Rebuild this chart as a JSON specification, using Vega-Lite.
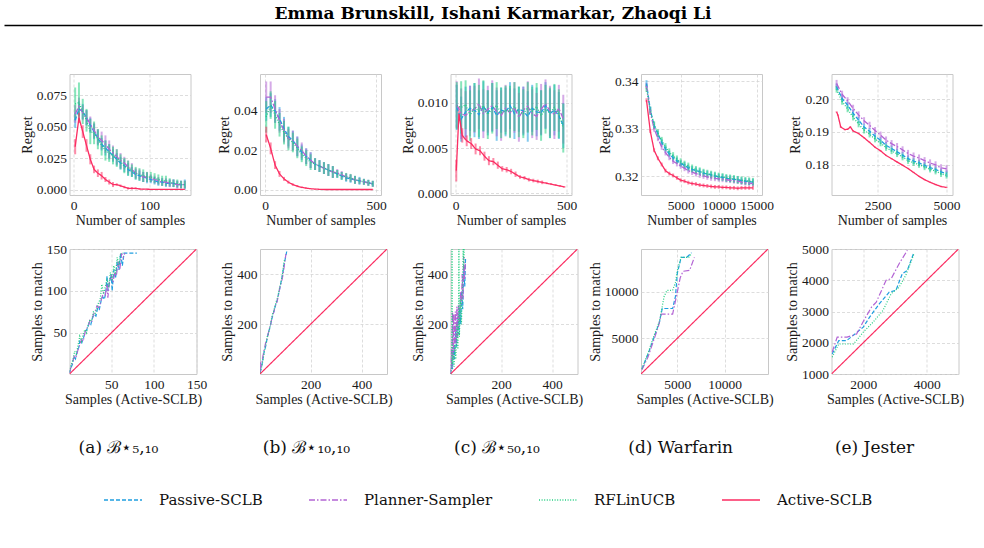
{
"$schema": "https://vega.github.io/schema/vega-lite/v6.json",
"padding": {"left": 3, "top": 5, "right": 3, "bottom": 5},
"background": "white",
"spacing": 47,
"config": {
 "font": "Times New Roman, Liberation Serif, Tinos, serif",
 "view": {"stroke": "#c8c8c8", "strokeWidth": 1},
 "axis": {"labelFont": "Times New Roman, Liberation Serif, Tinos, serif", "labelFontSize": 13.5, "labelColor": "#1a1a1a", "titleFont": "Times New Roman, Liberation Serif, Tinos, serif", "titleFontSize": 14, "titleFontWeight": "normal", "titleColor": "#1a1a1a", "ticks": false, "domain": false, "grid": true, "gridColor": "#d4d4d4", "gridDash": [3, 2], "gridWidth": 0.8, "labelPadding": 3, "titlePadding": 2, "labelFlush": false, "labelOverlap": false, "labelBound": false},
 "legend": {"labelFont": "DejaVu Serif", "labelFontSize": 15, "labelColor": "#111", "symbolOpacity": 1, "symbolStrokeWidth": 1.6, "symbolSize": 1444, "labelOffset": 16, "columnPadding": 42, "padding": 0},
 "title": {"font": "DejaVu Serif", "fontSize": 17, "fontWeight": "normal", "color": "#111"}
},
"datasets": {
"ta": [
{"s":"P","x":2,"y":0.055,"e":0.006},{"s":"P","x":7,"y":0.064,"e":0.006},{"s":"P","x":12,"y":0.062,"e":0.006},{"s":"P","x":17,"y":0.057,"e":0.006},{"s":"P","x":22,"y":0.051,"e":0.006},{"s":"P","x":27,"y":0.046,"e":0.006},{"s":"P","x":32,"y":0.041,"e":0.006},{"s":"P","x":37,"y":0.036,"e":0.005},{"s":"P","x":42,"y":0.033,"e":0.006},{"s":"P","x":47,"y":0.030,"e":0.006},{"s":"P","x":52,"y":0.027,"e":0.005},{"s":"P","x":57,"y":0.024,"e":0.005},{"s":"P","x":62,"y":0.021,"e":0.005},{"s":"P","x":67,"y":0.019,"e":0.005},{"s":"P","x":72,"y":0.016,"e":0.005},{"s":"P","x":77,"y":0.014,"e":0.004},{"s":"P","x":82,"y":0.012,"e":0.004},{"s":"P","x":87,"y":0.011,"e":0.004},{"s":"P","x":92,"y":0.010,"e":0.004},{"s":"P","x":97,"y":0.009,"e":0.004},{"s":"P","x":102,"y":0.008,"e":0.003},{"s":"P","x":107,"y":0.007,"e":0.003},{"s":"P","x":112,"y":0.006,"e":0.003},{"s":"P","x":117,"y":0.006,"e":0.003},{"s":"P","x":122,"y":0.005,"e":0.003},{"s":"P","x":127,"y":0.005,"e":0.003},{"s":"P","x":132,"y":0.005,"e":0.003},{"s":"P","x":137,"y":0.004,"e":0.003},{"s":"P","x":142,"y":0.004,"e":0.003},{"s":"P","x":147,"y":0.004,"e":0.004},
{"s":"L","x":2,"y":0.060,"e":0.007},{"s":"L","x":7,"y":0.066,"e":0.007},{"s":"L","x":12,"y":0.061,"e":0.006},{"s":"L","x":17,"y":0.057,"e":0.006},{"s":"L","x":22,"y":0.052,"e":0.006},{"s":"L","x":27,"y":0.047,"e":0.006},{"s":"L","x":32,"y":0.042,"e":0.006},{"s":"L","x":37,"y":0.039,"e":0.007},{"s":"L","x":42,"y":0.036,"e":0.007},{"s":"L","x":47,"y":0.032,"e":0.007},{"s":"L","x":52,"y":0.029,"e":0.006},{"s":"L","x":57,"y":0.026,"e":0.006},{"s":"L","x":62,"y":0.023,"e":0.006},{"s":"L","x":67,"y":0.021,"e":0.005},{"s":"L","x":72,"y":0.018,"e":0.005},{"s":"L","x":77,"y":0.016,"e":0.005},{"s":"L","x":82,"y":0.013,"e":0.004},{"s":"L","x":87,"y":0.012,"e":0.004},{"s":"L","x":92,"y":0.010,"e":0.004},{"s":"L","x":97,"y":0.010,"e":0.004},{"s":"L","x":102,"y":0.009,"e":0.003},{"s":"L","x":107,"y":0.008,"e":0.003},{"s":"L","x":112,"y":0.007,"e":0.003},{"s":"L","x":117,"y":0.006,"e":0.003},{"s":"L","x":122,"y":0.006,"e":0.003},{"s":"L","x":127,"y":0.005,"e":0.003},{"s":"L","x":132,"y":0.005,"e":0.003},{"s":"L","x":137,"y":0.004,"e":0.003},{"s":"L","x":142,"y":0.004,"e":0.003},{"s":"L","x":147,"y":0.004,"e":0.003},
{"s":"R","x":2,"y":0.068,"e":0.013},{"s":"R","x":7,"y":0.069,"e":0.016},{"s":"R","x":12,"y":0.062,"e":0.010},{"s":"R","x":17,"y":0.055,"e":0.009},{"s":"R","x":22,"y":0.046,"e":0.010},{"s":"R","x":27,"y":0.045,"e":0.009},{"s":"R","x":32,"y":0.040,"e":0.008},{"s":"R","x":37,"y":0.035,"e":0.008},{"s":"R","x":42,"y":0.031,"e":0.008},{"s":"R","x":47,"y":0.029,"e":0.007},{"s":"R","x":52,"y":0.027,"e":0.007},{"s":"R","x":57,"y":0.025,"e":0.007},{"s":"R","x":62,"y":0.022,"e":0.006},{"s":"R","x":67,"y":0.019,"e":0.006},{"s":"R","x":72,"y":0.017,"e":0.006},{"s":"R","x":77,"y":0.015,"e":0.005},{"s":"R","x":82,"y":0.013,"e":0.005},{"s":"R","x":87,"y":0.012,"e":0.005},{"s":"R","x":92,"y":0.011,"e":0.005},{"s":"R","x":97,"y":0.010,"e":0.004},{"s":"R","x":102,"y":0.010,"e":0.004},{"s":"R","x":107,"y":0.009,"e":0.004},{"s":"R","x":112,"y":0.008,"e":0.004},{"s":"R","x":117,"y":0.007,"e":0.004},{"s":"R","x":122,"y":0.007,"e":0.004},{"s":"R","x":127,"y":0.006,"e":0.003},{"s":"R","x":132,"y":0.005,"e":0.003},{"s":"R","x":137,"y":0.005,"e":0.003},{"s":"R","x":142,"y":0.004,"e":0.003},{"s":"R","x":147,"y":0.004,"e":0.003},
{"s":"A","x":2,"y":0.034,"e":0.006},{"s":"A","x":7,"y":0.057,"e":0.004},{"s":"A","x":12,"y":0.046,"e":0.005},{"s":"A","x":17,"y":0.035,"e":0.005},{"s":"A","x":22,"y":0.024,"e":0.004},{"s":"A","x":27,"y":0.016,"e":0.003},{"s":"A","x":32,"y":0.013,"e":0.003},{"s":"A","x":37,"y":0.011,"e":0.003},{"s":"A","x":42,"y":0.008,"e":0.002},{"s":"A","x":47,"y":0.006,"e":0.002},{"s":"A","x":52,"y":0.004,"e":0.002},{"s":"A","x":57,"y":0.004,"e":0.001},{"s":"A","x":62,"y":0.003,"e":0.001},{"s":"A","x":67,"y":0.002,"e":0.001},{"s":"A","x":72,"y":0.001,"e":0.001},{"s":"A","x":77,"y":0.001,"e":0.001},{"s":"A","x":82,"y":0.001,"e":0.0008},{"s":"A","x":87,"y":0.0005,"e":0.0005},{"s":"A","x":92,"y":0.0003,"e":0.0003},{"s":"A","x":97,"y":0.0003,"e":0.0003},{"s":"A","x":102,"y":0.0002,"e":0.0002},{"s":"A","x":107,"y":0.0002,"e":0.0002},{"s":"A","x":112,"y":0.0001,"e":0.0001},{"s":"A","x":117,"y":0.0001,"e":0.0001},{"s":"A","x":122,"y":0.0001,"e":0.0001},{"s":"A","x":127,"y":0.0001,"e":0.0001},{"s":"A","x":132,"y":0.0001,"e":0.0001},{"s":"A","x":137,"y":0.0001,"e":0.0001},{"s":"A","x":142,"y":0.0001,"e":0.0001},{"s":"A","x":147,"y":0.0001,"e":0.0001}
],
"tb": [
{"s":"P","x":5,"y":0.041,"e":0.006},{"s":"P","x":25,"y":0.043,"e":0.006},{"s":"P","x":45,"y":0.040,"e":0.006},{"s":"P","x":65,"y":0.036,"e":0.006},{"s":"P","x":85,"y":0.031,"e":0.006},{"s":"P","x":105,"y":0.027,"e":0.005},{"s":"P","x":125,"y":0.025,"e":0.005},{"s":"P","x":145,"y":0.022,"e":0.005},{"s":"P","x":165,"y":0.019,"e":0.004},{"s":"P","x":185,"y":0.017,"e":0.004},{"s":"P","x":205,"y":0.015,"e":0.004},{"s":"P","x":225,"y":0.013,"e":0.003},{"s":"P","x":245,"y":0.012,"e":0.003},{"s":"P","x":265,"y":0.011,"e":0.003},{"s":"P","x":285,"y":0.010,"e":0.003},{"s":"P","x":305,"y":0.009,"e":0.003},{"s":"P","x":325,"y":0.008,"e":0.002},{"s":"P","x":345,"y":0.007,"e":0.002},{"s":"P","x":365,"y":0.006,"e":0.002},{"s":"P","x":385,"y":0.0055,"e":0.002},{"s":"P","x":405,"y":0.005,"e":0.002},{"s":"P","x":425,"y":0.0045,"e":0.002},{"s":"P","x":445,"y":0.004,"e":0.0015},{"s":"P","x":465,"y":0.0035,"e":0.0015},{"s":"P","x":485,"y":0.003,"e":0.0015},
{"s":"L","x":5,"y":0.047,"e":0.008},{"s":"L","x":25,"y":0.047,"e":0.008},{"s":"L","x":45,"y":0.041,"e":0.007},{"s":"L","x":65,"y":0.035,"e":0.006},{"s":"L","x":85,"y":0.030,"e":0.006},{"s":"L","x":105,"y":0.026,"e":0.005},{"s":"L","x":125,"y":0.025,"e":0.005},{"s":"L","x":145,"y":0.022,"e":0.005},{"s":"L","x":165,"y":0.020,"e":0.004},{"s":"L","x":185,"y":0.017,"e":0.004},{"s":"L","x":205,"y":0.015,"e":0.004},{"s":"L","x":225,"y":0.013,"e":0.003},{"s":"L","x":245,"y":0.012,"e":0.003},{"s":"L","x":265,"y":0.011,"e":0.003},{"s":"L","x":285,"y":0.010,"e":0.003},{"s":"L","x":305,"y":0.009,"e":0.003},{"s":"L","x":325,"y":0.0085,"e":0.002},{"s":"L","x":345,"y":0.0075,"e":0.002},{"s":"L","x":365,"y":0.0065,"e":0.002},{"s":"L","x":385,"y":0.006,"e":0.002},{"s":"L","x":405,"y":0.005,"e":0.002},{"s":"L","x":425,"y":0.0045,"e":0.0015},{"s":"L","x":445,"y":0.004,"e":0.0015},{"s":"L","x":465,"y":0.0035,"e":0.0015},{"s":"L","x":485,"y":0.003,"e":0.0015},
{"s":"R","x":5,"y":0.037,"e":0.008},{"s":"R","x":25,"y":0.043,"e":0.007},{"s":"R","x":45,"y":0.038,"e":0.007},{"s":"R","x":65,"y":0.033,"e":0.006},{"s":"R","x":85,"y":0.029,"e":0.006},{"s":"R","x":105,"y":0.026,"e":0.006},{"s":"R","x":125,"y":0.024,"e":0.005},{"s":"R","x":145,"y":0.021,"e":0.005},{"s":"R","x":165,"y":0.018,"e":0.004},{"s":"R","x":185,"y":0.016,"e":0.004},{"s":"R","x":205,"y":0.014,"e":0.004},{"s":"R","x":225,"y":0.013,"e":0.003},{"s":"R","x":245,"y":0.012,"e":0.003},{"s":"R","x":265,"y":0.011,"e":0.003},{"s":"R","x":285,"y":0.010,"e":0.003},{"s":"R","x":305,"y":0.009,"e":0.003},{"s":"R","x":325,"y":0.008,"e":0.002},{"s":"R","x":345,"y":0.007,"e":0.002},{"s":"R","x":365,"y":0.0065,"e":0.002},{"s":"R","x":385,"y":0.006,"e":0.002},{"s":"R","x":405,"y":0.005,"e":0.002},{"s":"R","x":425,"y":0.0045,"e":0.0015},{"s":"R","x":445,"y":0.004,"e":0.0015},{"s":"R","x":465,"y":0.0035,"e":0.0015},{"s":"R","x":485,"y":0.003,"e":0.0015},
{"s":"A","x":5,"y":0.028,"e":0.004},{"s":"A","x":25,"y":0.021,"e":0.003},{"s":"A","x":45,"y":0.0125,"e":0.002},{"s":"A","x":65,"y":0.008,"e":0.0015},{"s":"A","x":85,"y":0.0055,"e":0.001},{"s":"A","x":105,"y":0.0038,"e":0.0008},{"s":"A","x":125,"y":0.0026,"e":0.0006},{"s":"A","x":145,"y":0.0018,"e":0.0005},{"s":"A","x":165,"y":0.0012,"e":0.0004},{"s":"A","x":185,"y":0.0008,"e":0.0003},{"s":"A","x":205,"y":0.0005,"e":0.0002},{"s":"A","x":225,"y":0.0003,"e":0.0002},{"s":"A","x":245,"y":0.0002,"e":0.0001},{"s":"A","x":265,"y":0.0001,"e":0.0001},{"s":"A","x":285,"y":0.0001,"e":0.0001},{"s":"A","x":305,"y":0.0001,"e":0.0001},{"s":"A","x":325,"y":0.0001,"e":0.0001},{"s":"A","x":345,"y":0.0001,"e":0.0001},{"s":"A","x":365,"y":0.0001,"e":0.0001},{"s":"A","x":385,"y":0.0001,"e":0.0001},{"s":"A","x":405,"y":0.0001,"e":0.0001},{"s":"A","x":425,"y":0.0001,"e":0.0001},{"s":"A","x":445,"y":0.0001,"e":0.0001},{"s":"A","x":465,"y":0.0001,"e":0.0001},{"s":"A","x":485,"y":0.0001,"e":0.0001}
],
"tc": [
{"s":"P","x":5,"y":0.0095,"e":0.0025},{"s":"P","x":25,"y":0.0082,"e":0.0025},{"s":"P","x":45,"y":0.0090,"e":0.0028},{"s":"P","x":65,"y":0.0094,"e":0.0025},{"s":"P","x":85,"y":0.0092,"e":0.003},{"s":"P","x":105,"y":0.0087,"e":0.0027},{"s":"P","x":125,"y":0.0096,"e":0.0028},{"s":"P","x":145,"y":0.0089,"e":0.0025},{"s":"P","x":165,"y":0.0095,"e":0.0027},{"s":"P","x":185,"y":0.0086,"e":0.0028},{"s":"P","x":205,"y":0.0092,"e":0.0025},{"s":"P","x":225,"y":0.0090,"e":0.0027},{"s":"P","x":245,"y":0.0097,"e":0.0026},{"s":"P","x":265,"y":0.0088,"e":0.0028},{"s":"P","x":285,"y":0.0093,"e":0.0025},{"s":"P","x":305,"y":0.0091,"e":0.0027},{"s":"P","x":325,"y":0.0085,"e":0.0028},{"s":"P","x":345,"y":0.0094,"e":0.0026},{"s":"P","x":365,"y":0.0090,"e":0.0027},{"s":"P","x":385,"y":0.0089,"e":0.0025},{"s":"P","x":405,"y":0.0097,"e":0.0026},{"s":"P","x":425,"y":0.0088,"e":0.0027},{"s":"P","x":445,"y":0.0092,"e":0.0028},{"s":"P","x":465,"y":0.0086,"e":0.0026},{"s":"P","x":485,"y":0.0075,"e":0.0025},
{"s":"L","x":5,"y":0.0098,"e":0.0026},{"s":"L","x":25,"y":0.0088,"e":0.0028},{"s":"L","x":45,"y":0.0086,"e":0.0027},{"s":"L","x":65,"y":0.0091,"e":0.0028},{"s":"L","x":85,"y":0.0093,"e":0.0026},{"s":"L","x":105,"y":0.0099,"e":0.0028},{"s":"L","x":125,"y":0.0088,"e":0.0027},{"s":"L","x":145,"y":0.0093,"e":0.0026},{"s":"L","x":165,"y":0.0097,"e":0.0028},{"s":"L","x":185,"y":0.0090,"e":0.0027},{"s":"L","x":205,"y":0.0086,"e":0.0028},{"s":"L","x":225,"y":0.0094,"e":0.0026},{"s":"L","x":245,"y":0.0089,"e":0.0027},{"s":"L","x":265,"y":0.0095,"e":0.0028},{"s":"L","x":285,"y":0.0084,"e":0.0027},{"s":"L","x":305,"y":0.0092,"e":0.0026},{"s":"L","x":325,"y":0.0096,"e":0.0028},{"s":"L","x":345,"y":0.0088,"e":0.0027},{"s":"L","x":365,"y":0.0085,"e":0.0026},{"s":"L","x":385,"y":0.0093,"e":0.0028},{"s":"L","x":405,"y":0.0099,"e":0.0027},{"s":"L","x":425,"y":0.0091,"e":0.0028},{"s":"L","x":445,"y":0.0087,"e":0.0027},{"s":"L","x":465,"y":0.0094,"e":0.0026},{"s":"L","x":485,"y":0.0082,"e":0.0027},
{"s":"R","x":5,"y":0.0097,"e":0.0026},{"s":"R","x":25,"y":0.0095,"e":0.0029},{"s":"R","x":45,"y":0.0098,"e":0.0027},{"s":"R","x":65,"y":0.0086,"e":0.0028},{"s":"R","x":85,"y":0.0095,"e":0.0027},{"s":"R","x":105,"y":0.0091,"e":0.0029},{"s":"R","x":125,"y":0.0097,"e":0.0028},{"s":"R","x":145,"y":0.0087,"e":0.0027},{"s":"R","x":165,"y":0.0094,"e":0.0028},{"s":"R","x":185,"y":0.0097,"e":0.0026},{"s":"R","x":205,"y":0.0089,"e":0.0028},{"s":"R","x":225,"y":0.0092,"e":0.0027},{"s":"R","x":245,"y":0.0090,"e":0.0029},{"s":"R","x":265,"y":0.0096,"e":0.0027},{"s":"R","x":285,"y":0.0090,"e":0.0028},{"s":"R","x":305,"y":0.0088,"e":0.0027},{"s":"R","x":325,"y":0.0095,"e":0.0028},{"s":"R","x":345,"y":0.0091,"e":0.0027},{"s":"R","x":365,"y":0.0096,"e":0.0026},{"s":"R","x":385,"y":0.0086,"e":0.0028},{"s":"R","x":405,"y":0.0093,"e":0.0027},{"s":"R","x":425,"y":0.0089,"e":0.0028},{"s":"R","x":445,"y":0.0095,"e":0.0026},{"s":"R","x":465,"y":0.0088,"e":0.0027},{"s":"R","x":485,"y":0.0072,"e":0.0027},
{"s":"A","x":3,"y":0.0025,"e":0.0012},{"s":"A","x":15,"y":0.0088,"e":0.0008},{"s":"A","x":30,"y":0.0064,"e":0.0008},{"s":"A","x":50,"y":0.0058,"e":0.0006},{"s":"A","x":70,"y":0.0055,"e":0.0006},{"s":"A","x":90,"y":0.0049,"e":0.0006},{"s":"A","x":110,"y":0.0047,"e":0.0005},{"s":"A","x":130,"y":0.0041,"e":0.0005},{"s":"A","x":150,"y":0.0036,"e":0.0005},{"s":"A","x":170,"y":0.0035,"e":0.0004},{"s":"A","x":190,"y":0.0031,"e":0.0004},{"s":"A","x":210,"y":0.0027,"e":0.0003},{"s":"A","x":230,"y":0.0026,"e":0.0003},{"s":"A","x":250,"y":0.0024,"e":0.0003},{"s":"A","x":270,"y":0.0021,"e":0.0003},{"s":"A","x":290,"y":0.0018,"e":0.0002},{"s":"A","x":310,"y":0.0017,"e":0.0002},{"s":"A","x":330,"y":0.0015,"e":0.0002},{"s":"A","x":350,"y":0.0014,"e":0.0002},{"s":"A","x":370,"y":0.0013,"e":0.0002},{"s":"A","x":390,"y":0.0012,"e":0.0002},{"s":"A","x":410,"y":0.0011,"e":0.0001},{"s":"A","x":430,"y":0.0010,"e":0.0001},{"s":"A","x":450,"y":0.0009,"e":0.0001},{"s":"A","x":470,"y":0.0008,"e":0.0001},{"s":"A","x":490,"y":0.0007,"e":0.0001}
],
"td": [
{"s":"P","x":500,"y":0.3395,"e":0.0007},{"s":"P","x":1000,"y":0.3340,"e":0.0007},{"s":"P","x":1500,"y":0.3307,"e":0.0007},{"s":"P","x":2000,"y":0.3289,"e":0.0007},{"s":"P","x":2500,"y":0.3272,"e":0.0007},{"s":"P","x":3000,"y":0.3258,"e":0.0007},{"s":"P","x":3500,"y":0.3247,"e":0.0007},{"s":"P","x":4000,"y":0.3239,"e":0.0007},{"s":"P","x":4500,"y":0.3233,"e":0.0007},{"s":"P","x":5000,"y":0.3227,"e":0.0007},{"s":"P","x":5500,"y":0.3223,"e":0.0007},{"s":"P","x":6000,"y":0.3218,"e":0.0007},{"s":"P","x":6500,"y":0.3215,"e":0.0007},{"s":"P","x":7000,"y":0.3212,"e":0.0007},{"s":"P","x":7500,"y":0.3210,"e":0.0007},{"s":"P","x":8000,"y":0.3207,"e":0.0007},{"s":"P","x":8500,"y":0.3205,"e":0.0007},{"s":"P","x":9000,"y":0.3203,"e":0.0007},{"s":"P","x":9500,"y":0.3201,"e":0.0007},{"s":"P","x":10000,"y":0.3199,"e":0.0007},{"s":"P","x":10500,"y":0.3198,"e":0.0007},{"s":"P","x":11000,"y":0.3196,"e":0.0007},{"s":"P","x":11500,"y":0.3195,"e":0.0007},{"s":"P","x":12000,"y":0.3194,"e":0.0007},{"s":"P","x":12500,"y":0.3193,"e":0.0007},{"s":"P","x":13000,"y":0.3191,"e":0.0007},{"s":"P","x":13500,"y":0.3190,"e":0.0007},{"s":"P","x":14000,"y":0.3189,"e":0.0007},{"s":"P","x":14500,"y":0.3188,"e":0.0007},
{"s":"L","x":500,"y":0.3390,"e":0.0006},{"s":"L","x":1000,"y":0.3335,"e":0.0006},{"s":"L","x":1500,"y":0.3300,"e":0.0006},{"s":"L","x":2000,"y":0.3280,"e":0.0006},{"s":"L","x":2500,"y":0.3262,"e":0.0006},{"s":"L","x":3000,"y":0.3250,"e":0.0006},{"s":"L","x":3500,"y":0.3240,"e":0.0006},{"s":"L","x":4000,"y":0.3232,"e":0.0006},{"s":"L","x":4500,"y":0.3227,"e":0.0006},{"s":"L","x":5000,"y":0.3222,"e":0.0006},{"s":"L","x":5500,"y":0.3217,"e":0.0006},{"s":"L","x":6000,"y":0.3212,"e":0.0006},{"s":"L","x":6500,"y":0.3209,"e":0.0006},{"s":"L","x":7000,"y":0.3206,"e":0.0006},{"s":"L","x":7500,"y":0.3203,"e":0.0006},{"s":"L","x":8000,"y":0.3201,"e":0.0006},{"s":"L","x":8500,"y":0.3199,"e":0.0006},{"s":"L","x":9000,"y":0.3197,"e":0.0006},{"s":"L","x":9500,"y":0.3196,"e":0.0006},{"s":"L","x":10000,"y":0.3195,"e":0.0006},{"s":"L","x":10500,"y":0.3194,"e":0.0006},{"s":"L","x":11000,"y":0.3193,"e":0.0006},{"s":"L","x":11500,"y":0.3192,"e":0.0006},{"s":"L","x":12000,"y":0.3191,"e":0.0006},{"s":"L","x":12500,"y":0.3190,"e":0.0006},{"s":"L","x":13000,"y":0.3188,"e":0.0006},{"s":"L","x":13500,"y":0.3187,"e":0.0006},{"s":"L","x":14000,"y":0.3186,"e":0.0006},{"s":"L","x":14500,"y":0.3185,"e":0.0006},
{"s":"R","x":500,"y":0.3385,"e":0.0008},{"s":"R","x":1000,"y":0.3338,"e":0.0008},{"s":"R","x":1500,"y":0.3308,"e":0.0008},{"s":"R","x":2000,"y":0.3291,"e":0.0008},{"s":"R","x":2500,"y":0.3275,"e":0.0008},{"s":"R","x":3000,"y":0.3262,"e":0.0008},{"s":"R","x":3500,"y":0.3251,"e":0.0008},{"s":"R","x":4000,"y":0.3243,"e":0.0008},{"s":"R","x":4500,"y":0.3236,"e":0.0008},{"s":"R","x":5000,"y":0.3230,"e":0.0008},{"s":"R","x":5500,"y":0.3225,"e":0.0008},{"s":"R","x":6000,"y":0.3221,"e":0.0008},{"s":"R","x":6500,"y":0.3217,"e":0.0008},{"s":"R","x":7000,"y":0.3214,"e":0.0008},{"s":"R","x":7500,"y":0.3211,"e":0.0008},{"s":"R","x":8000,"y":0.3208,"e":0.0008},{"s":"R","x":8500,"y":0.3206,"e":0.0008},{"s":"R","x":9000,"y":0.3204,"e":0.0008},{"s":"R","x":9500,"y":0.3202,"e":0.0008},{"s":"R","x":10000,"y":0.3200,"e":0.0008},{"s":"R","x":10500,"y":0.3199,"e":0.0008},{"s":"R","x":11000,"y":0.3197,"e":0.0008},{"s":"R","x":11500,"y":0.3196,"e":0.0008},{"s":"R","x":12000,"y":0.3195,"e":0.0008},{"s":"R","x":12500,"y":0.3193,"e":0.0008},{"s":"R","x":13000,"y":0.3192,"e":0.0008},{"s":"R","x":13500,"y":0.3191,"e":0.0008},{"s":"R","x":14000,"y":0.3190,"e":0.0008},{"s":"R","x":14500,"y":0.3189,"e":0.0008},
{"s":"A","x":500,"y":0.3360,"e":0.0004},{"s":"A","x":1000,"y":0.3295,"e":0.0004},{"s":"A","x":1500,"y":0.3255,"e":0.0004},{"s":"A","x":2000,"y":0.3238,"e":0.0004},{"s":"A","x":2500,"y":0.3225,"e":0.0004},{"s":"A","x":3000,"y":0.3212,"e":0.0004},{"s":"A","x":3500,"y":0.3206,"e":0.0004},{"s":"A","x":4000,"y":0.3202,"e":0.0004},{"s":"A","x":4500,"y":0.3197,"e":0.0004},{"s":"A","x":5000,"y":0.3192,"e":0.0004},{"s":"A","x":5500,"y":0.3190,"e":0.0004},{"s":"A","x":6000,"y":0.3187,"e":0.0004},{"s":"A","x":6500,"y":0.3185,"e":0.0004},{"s":"A","x":7000,"y":0.3184,"e":0.0004},{"s":"A","x":7500,"y":0.3182,"e":0.0004},{"s":"A","x":8000,"y":0.3181,"e":0.0004},{"s":"A","x":8500,"y":0.3180,"e":0.0004},{"s":"A","x":9000,"y":0.3179,"e":0.0004},{"s":"A","x":9500,"y":0.3178,"e":0.0004},{"s":"A","x":10000,"y":0.3178,"e":0.0004},{"s":"A","x":10500,"y":0.3177,"e":0.0004},{"s":"A","x":11000,"y":0.3177,"e":0.0004},{"s":"A","x":11500,"y":0.3176,"e":0.0004},{"s":"A","x":12000,"y":0.3176,"e":0.0004},{"s":"A","x":12500,"y":0.3175,"e":0.0004},{"s":"A","x":13000,"y":0.3176,"e":0.0004},{"s":"A","x":13500,"y":0.3176,"e":0.0004},{"s":"A","x":14000,"y":0.3176,"e":0.0004},{"s":"A","x":14500,"y":0.3176,"e":0.0004}
],
"te": [
{"s":"P","x":1000,"y":0.2038,"e":0.001},{"s":"P","x":1200,"y":0.2002,"e":0.001},{"s":"P","x":1400,"y":0.1982,"e":0.001},{"s":"P","x":1600,"y":0.1957,"e":0.001},{"s":"P","x":1800,"y":0.1936,"e":0.001},{"s":"P","x":2000,"y":0.1915,"e":0.001},{"s":"P","x":2200,"y":0.1902,"e":0.001},{"s":"P","x":2400,"y":0.1887,"e":0.001},{"s":"P","x":2600,"y":0.1874,"e":0.001},{"s":"P","x":2800,"y":0.1859,"e":0.001},{"s":"P","x":3000,"y":0.1849,"e":0.001},{"s":"P","x":3200,"y":0.1839,"e":0.001},{"s":"P","x":3400,"y":0.1829,"e":0.001},{"s":"P","x":3600,"y":0.1818,"e":0.001},{"s":"P","x":3800,"y":0.1811,"e":0.001},{"s":"P","x":4000,"y":0.1805,"e":0.001},{"s":"P","x":4200,"y":0.1798,"e":0.001},{"s":"P","x":4400,"y":0.1791,"e":0.001},{"s":"P","x":4600,"y":0.1785,"e":0.001},{"s":"P","x":4800,"y":0.1778,"e":0.001},{"s":"P","x":5000,"y":0.1772,"e":0.001},
{"s":"L","x":1000,"y":0.2048,"e":0.0011},{"s":"L","x":1200,"y":0.2015,"e":0.0011},{"s":"L","x":1400,"y":0.1995,"e":0.0011},{"s":"L","x":1600,"y":0.1972,"e":0.0011},{"s":"L","x":1800,"y":0.1952,"e":0.0011},{"s":"L","x":2000,"y":0.1934,"e":0.0011},{"s":"L","x":2200,"y":0.1920,"e":0.0011},{"s":"L","x":2400,"y":0.1904,"e":0.0011},{"s":"L","x":2600,"y":0.1890,"e":0.0011},{"s":"L","x":2800,"y":0.1875,"e":0.0011},{"s":"L","x":3000,"y":0.1864,"e":0.0011},{"s":"L","x":3200,"y":0.1855,"e":0.0011},{"s":"L","x":3400,"y":0.1845,"e":0.0011},{"s":"L","x":3600,"y":0.1834,"e":0.0011},{"s":"L","x":3800,"y":0.1826,"e":0.0011},{"s":"L","x":4000,"y":0.1820,"e":0.0011},{"s":"L","x":4200,"y":0.1812,"e":0.0011},{"s":"L","x":4400,"y":0.1805,"e":0.0011},{"s":"L","x":4600,"y":0.1799,"e":0.0011},{"s":"L","x":4800,"y":0.1790,"e":0.0011},{"s":"L","x":5000,"y":0.1787,"e":0.0011},
{"s":"R","x":1000,"y":0.2030,"e":0.001},{"s":"R","x":1200,"y":0.1993,"e":0.001},{"s":"R","x":1400,"y":0.1970,"e":0.001},{"s":"R","x":1600,"y":0.1945,"e":0.001},{"s":"R","x":1800,"y":0.1924,"e":0.001},{"s":"R","x":2000,"y":0.1905,"e":0.001},{"s":"R","x":2200,"y":0.1893,"e":0.001},{"s":"R","x":2400,"y":0.1878,"e":0.001},{"s":"R","x":2600,"y":0.1866,"e":0.001},{"s":"R","x":2800,"y":0.1852,"e":0.001},{"s":"R","x":3000,"y":0.1842,"e":0.001},{"s":"R","x":3200,"y":0.1833,"e":0.001},{"s":"R","x":3400,"y":0.1823,"e":0.001},{"s":"R","x":3600,"y":0.1812,"e":0.001},{"s":"R","x":3800,"y":0.1806,"e":0.001},{"s":"R","x":4000,"y":0.1800,"e":0.001},{"s":"R","x":4200,"y":0.1793,"e":0.001},{"s":"R","x":4400,"y":0.1786,"e":0.001},{"s":"R","x":4600,"y":0.1780,"e":0.001},{"s":"R","x":4800,"y":0.1772,"e":0.001},{"s":"R","x":5000,"y":0.1767,"e":0.001},
{"s":"A","x":1000,"y":0.1961,"e":0.0002},{"s":"A","x":1050,"y":0.1951,"e":0.0002},{"s":"A","x":1150,"y":0.1915,"e":0.0002},{"s":"A","x":1300,"y":0.1907,"e":0.0002},{"s":"A","x":1400,"y":0.1908,"e":0.0002},{"s":"A","x":1500,"y":0.1915,"e":0.0002},{"s":"A","x":1600,"y":0.1903,"e":0.0002},{"s":"A","x":1800,"y":0.1895,"e":0.0002},{"s":"A","x":2000,"y":0.1882,"e":0.0002},{"s":"A","x":2200,"y":0.1868,"e":0.0002},{"s":"A","x":2400,"y":0.1853,"e":0.0002},{"s":"A","x":2600,"y":0.1842,"e":0.0002},{"s":"A","x":2800,"y":0.1828,"e":0.0002},{"s":"A","x":3000,"y":0.1818,"e":0.0002},{"s":"A","x":3200,"y":0.1808,"e":0.0002},{"s":"A","x":3400,"y":0.1798,"e":0.0002},{"s":"A","x":3600,"y":0.1788,"e":0.0002},{"s":"A","x":3800,"y":0.1776,"e":0.0002},{"s":"A","x":4000,"y":0.1764,"e":0.0002},{"s":"A","x":4200,"y":0.1754,"e":0.0002},{"s":"A","x":4400,"y":0.1746,"e":0.0002},{"s":"A","x":4600,"y":0.1739,"e":0.0002},{"s":"A","x":4800,"y":0.1733,"e":0.0002},{"s":"A","x":5000,"y":0.1730,"e":0.0002}
],
"ba": [
{"s":"P","x":1,"y":2},{"s":"P","x":3,"y":9},{"s":"P","x":5,"y":14},{"s":"P","x":6,"y":22},{"s":"P","x":8,"y":19},{"s":"P","x":10,"y":28},{"s":"P","x":12,"y":33},{"s":"P","x":13,"y":40},{"s":"P","x":15,"y":37},{"s":"P","x":18,"y":46},{"s":"P","x":20,"y":52},{"s":"P","x":22,"y":55},{"s":"P","x":24,"y":62},{"s":"P","x":26,"y":60},{"s":"P","x":28,"y":68},{"s":"P","x":30,"y":72},{"s":"P","x":32,"y":70},{"s":"P","x":34,"y":80},{"s":"P","x":36,"y":78},{"s":"P","x":38,"y":88},{"s":"P","x":40,"y":93},{"s":"P","x":42,"y":90},{"s":"P","x":44,"y":102},{"s":"P","x":45,"y":118},{"s":"P","x":46,"y":100},{"s":"P","x":48,"y":110},{"s":"P","x":50,"y":120},{"s":"P","x":51,"y":100},{"s":"P","x":53,"y":125},{"s":"P","x":55,"y":115},{"s":"P","x":57,"y":135},{"s":"P","x":59,"y":125},{"s":"P","x":61,"y":145},{"s":"P","x":63,"y":130},{"s":"P","x":65,"y":145},{"s":"P","x":80,"y":145},
{"s":"L","x":1,"y":3},{"s":"L","x":3,"y":10},{"s":"L","x":5,"y":16},{"s":"L","x":7,"y":24},{"s":"L","x":9,"y":22},{"s":"L","x":11,"y":30},{"s":"L","x":13,"y":36},{"s":"L","x":15,"y":42},{"s":"L","x":17,"y":40},{"s":"L","x":19,"y":50},{"s":"L","x":21,"y":55},{"s":"L","x":23,"y":58},{"s":"L","x":25,"y":65},{"s":"L","x":27,"y":63},{"s":"L","x":29,"y":72},{"s":"L","x":31,"y":75},{"s":"L","x":33,"y":82},{"s":"L","x":35,"y":80},{"s":"L","x":37,"y":85},{"s":"L","x":39,"y":92},{"s":"L","x":41,"y":98},{"s":"L","x":43,"y":95},{"s":"L","x":45,"y":108},{"s":"L","x":46,"y":92},{"s":"L","x":48,"y":112},{"s":"L","x":50,"y":118},{"s":"L","x":52,"y":110},{"s":"L","x":54,"y":122},{"s":"L","x":56,"y":118},{"s":"L","x":58,"y":135},{"s":"L","x":60,"y":125},{"s":"L","x":62,"y":145},{"s":"L","x":64,"y":140},{"s":"L","x":66,"y":145},
{"s":"R","x":1,"y":4},{"s":"R","x":3,"y":12},{"s":"R","x":5,"y":18},{"s":"R","x":7,"y":28},{"s":"R","x":9,"y":25},{"s":"R","x":11,"y":35},{"s":"R","x":13,"y":46},{"s":"R","x":15,"y":40},{"s":"R","x":17,"y":48},{"s":"R","x":19,"y":54},{"s":"R","x":21,"y":50},{"s":"R","x":23,"y":60},{"s":"R","x":25,"y":66},{"s":"R","x":27,"y":64},{"s":"R","x":29,"y":75},{"s":"R","x":31,"y":73},{"s":"R","x":33,"y":78},{"s":"R","x":35,"y":86},{"s":"R","x":37,"y":90},{"s":"R","x":39,"y":108},{"s":"R","x":41,"y":96},{"s":"R","x":43,"y":105},{"s":"R","x":45,"y":115},{"s":"R","x":47,"y":104},{"s":"R","x":49,"y":122},{"s":"R","x":51,"y":112},{"s":"R","x":53,"y":130},{"s":"R","x":55,"y":120},{"s":"R","x":57,"y":140},{"s":"R","x":59,"y":130},{"s":"R","x":61,"y":145},{"s":"R","x":63,"y":145},
{"s":"A","x":1,"y":1},{"s":"A","x":150,"y":150}
],
"bb": [
{"s":"P","x":2,"y":8},{"s":"P","x":6,"y":25},{"s":"P","x":10,"y":45},{"s":"P","x":14,"y":70},{"s":"P","x":18,"y":95},{"s":"P","x":22,"y":105},{"s":"P","x":26,"y":125},{"s":"P","x":30,"y":150},{"s":"P","x":34,"y":165},{"s":"P","x":38,"y":180},{"s":"P","x":42,"y":195},{"s":"P","x":46,"y":215},{"s":"P","x":50,"y":230},{"s":"P","x":54,"y":245},{"s":"P","x":58,"y":260},{"s":"P","x":62,"y":275},{"s":"P","x":66,"y":285},{"s":"P","x":70,"y":300},{"s":"P","x":74,"y":320},{"s":"P","x":78,"y":340},{"s":"P","x":82,"y":360},{"s":"P","x":86,"y":380},{"s":"P","x":90,"y":400},{"s":"P","x":94,"y":430},{"s":"P","x":98,"y":450},{"s":"P","x":102,"y":470},{"s":"P","x":106,"y":490},
{"s":"L","x":2,"y":10},{"s":"L","x":3,"y":50},{"s":"L","x":5,"y":30},{"s":"L","x":8,"y":40},{"s":"L","x":12,"y":70},{"s":"L","x":16,"y":90},{"s":"L","x":20,"y":110},{"s":"L","x":24,"y":130},{"s":"L","x":28,"y":140},{"s":"L","x":32,"y":155},{"s":"L","x":36,"y":175},{"s":"L","x":40,"y":190},{"s":"L","x":44,"y":205},{"s":"L","x":48,"y":225},{"s":"L","x":52,"y":240},{"s":"L","x":56,"y":250},{"s":"L","x":60,"y":270},{"s":"L","x":64,"y":280},{"s":"L","x":68,"y":290},{"s":"L","x":72,"y":310},{"s":"L","x":76,"y":330},{"s":"L","x":80,"y":350},{"s":"L","x":84,"y":365},{"s":"L","x":88,"y":380},{"s":"L","x":92,"y":400},{"s":"L","x":96,"y":430},{"s":"L","x":100,"y":460},{"s":"L","x":103,"y":480},
{"s":"R","x":2,"y":6},{"s":"R","x":6,"y":22},{"s":"R","x":10,"y":42},{"s":"R","x":14,"y":65},{"s":"R","x":18,"y":90},{"s":"R","x":22,"y":110},{"s":"R","x":26,"y":130},{"s":"R","x":30,"y":150},{"s":"R","x":34,"y":160},{"s":"R","x":38,"y":178},{"s":"R","x":42,"y":198},{"s":"R","x":46,"y":220},{"s":"R","x":50,"y":240},{"s":"R","x":54,"y":250},{"s":"R","x":58,"y":265},{"s":"R","x":62,"y":280},{"s":"R","x":66,"y":295},{"s":"R","x":70,"y":305},{"s":"R","x":74,"y":325},{"s":"R","x":78,"y":345},{"s":"R","x":82,"y":362},{"s":"R","x":86,"y":380},{"s":"R","x":90,"y":405},{"s":"R","x":94,"y":440},{"s":"R","x":98,"y":460},
{"s":"A","x":1,"y":1},{"s":"A","x":500,"y":500}
],
"bc": [
{"s":"P","x":1,"y":1},{"s":"P","x":5,"y":40},{"s":"P","x":9,"y":20},{"s":"P","x":13,"y":110},{"s":"P","x":17,"y":60},{"s":"P","x":21,"y":170},{"s":"P","x":25,"y":110},{"s":"P","x":29,"y":230},{"s":"P","x":33,"y":160},{"s":"P","x":37,"y":260},{"s":"P","x":41,"y":200},{"s":"P","x":45,"y":330},{"s":"P","x":49,"y":260},{"s":"P","x":53,"y":420},{"s":"P","x":57,"y":350},{"s":"P","x":60,"y":460},
{"s":"L","x":1,"y":1},{"s":"L","x":4,"y":100},{"s":"L","x":6,"y":20},{"s":"L","x":9,"y":250},{"s":"L","x":11,"y":60},{"s":"L","x":14,"y":240},{"s":"L","x":17,"y":90},{"s":"L","x":20,"y":250},{"s":"L","x":23,"y":120},{"s":"L","x":26,"y":270},{"s":"L","x":29,"y":150},{"s":"L","x":32,"y":275},{"s":"L","x":35,"y":200},{"s":"L","x":38,"y":260},{"s":"L","x":41,"y":330},{"s":"L","x":44,"y":280},{"s":"L","x":47,"y":400},{"s":"L","x":50,"y":300},{"s":"L","x":53,"y":470},{"s":"L","x":56,"y":380},{"s":"L","x":60,"y":450},
{"s":"R","x":1,"y":1},{"s":"R","x":6,"y":30},{"s":"R","x":7,"y":500},{"s":"R","x":8,"y":40},{"s":"R","x":12,"y":80},{"s":"R","x":15,"y":30},{"s":"R","x":18,"y":120},{"s":"R","x":22,"y":60},{"s":"R","x":26,"y":200},{"s":"R","x":30,"y":100},{"s":"R","x":33,"y":260},{"s":"R","x":34,"y":500},{"s":"R","x":36,"y":150},{"s":"R","x":40,"y":300},{"s":"R","x":44,"y":200},{"s":"R","x":48,"y":350},{"s":"R","x":51,"y":500},{"s":"R","x":53,"y":420},{"s":"R","x":55,"y":500},
{"s":"A","x":1,"y":1},{"s":"A","x":500,"y":500}
],
"bd": [
{"s":"P","x":1250,"y":1700},{"s":"P","x":1900,"y":3300},{"s":"P","x":2500,"y":5000},{"s":"P","x":3100,"y":6700},{"s":"P","x":3400,"y":8200},{"s":"P","x":4500,"y":8200},{"s":"P","x":4800,"y":9500},{"s":"P","x":5000,"y":12000},{"s":"P","x":5400,"y":13700},{"s":"P","x":6000,"y":13700},{"s":"P","x":6500,"y":14200},
{"s":"L","x":1250,"y":1600},{"s":"L","x":1900,"y":3000},{"s":"L","x":2500,"y":4800},{"s":"L","x":3000,"y":6300},{"s":"L","x":3300,"y":7600},{"s":"L","x":4500,"y":7600},{"s":"L","x":4900,"y":9500},{"s":"L","x":5300,"y":11500},{"s":"L","x":5600,"y":12200},{"s":"L","x":6300,"y":12300},{"s":"L","x":6800,"y":13700},
{"s":"R","x":1250,"y":1700},{"s":"R","x":1900,"y":3400},{"s":"R","x":2500,"y":5200},{"s":"R","x":3100,"y":6800},{"s":"R","x":3600,"y":9500},{"s":"R","x":3900,"y":10150},{"s":"R","x":4500,"y":10150},{"s":"R","x":4800,"y":11000},{"s":"R","x":5000,"y":12300},{"s":"R","x":5400,"y":13700},{"s":"R","x":6200,"y":13700},{"s":"R","x":6500,"y":14100},
{"s":"A","x":1150,"y":1150},{"s":"A","x":14600,"y":14600}
],
"be": [
{"s":"P","x":1020,"y":1640},{"s":"P","x":1230,"y":2070},{"s":"P","x":1480,"y":2070},{"s":"P","x":1700,"y":2250},{"s":"P","x":2000,"y":2500},{"s":"P","x":2200,"y":2820},{"s":"P","x":2510,"y":3250},{"s":"P","x":2820,"y":3620},{"s":"P","x":3030,"y":3680},{"s":"P","x":3230,"y":4210},{"s":"P","x":3390,"y":4320},{"s":"P","x":3600,"y":4900},
{"s":"L","x":1020,"y":1700},{"s":"L","x":1180,"y":2180},{"s":"L","x":1490,"y":2180},{"s":"L","x":1790,"y":2280},{"s":"L","x":2000,"y":2680},{"s":"L","x":2260,"y":3140},{"s":"L","x":2410,"y":3300},{"s":"L","x":2720,"y":4000},{"s":"L","x":2880,"y":4050},{"s":"L","x":3130,"y":4530},{"s":"L","x":3390,"y":4960},
{"s":"R","x":1020,"y":1540},{"s":"R","x":1230,"y":1960},{"s":"R","x":1690,"y":1960},{"s":"R","x":2000,"y":2340},{"s":"R","x":2310,"y":2660},{"s":"R","x":2620,"y":3030},{"s":"R","x":2880,"y":3570},{"s":"R","x":3130,"y":3780},{"s":"R","x":3340,"y":4160},{"s":"R","x":3600,"y":4850},
{"s":"A","x":1000,"y":1000},{"s":"A","x":5000,"y":5000}
]
},
"vconcat": [
{
 "width": 978, "height": 1,
 "data": {"values": [{"h": 0}]},
 "mark": {"type": "point", "opacity": 0, "size": 1},
 "encoding": {"x": {"field": "h", "type": "quantitative", "axis": {"orient": "top", "domain": true, "domainColor": "#000", "domainWidth": 1.3, "ticks": false, "labels": false, "grid": false, "title": null}}},
 "title": {"text": "Emma Brunskill, Ishani Karmarkar, Zhaoqi Li", "font": "DejaVu Serif", "fontSize": 17, "fontWeight": "bold", "color": "#000", "offset": 2},
 "view": {"stroke": null}
},
{
 "columns": 6, "bounds": "flush", "align": "each",
 "spacing": {"row": 54, "column": 63.5},
 "concat": [
 {"width": 1.5, "height": 121, "data": {"values": [{"v": 0}]}, "mark": {"type": "point", "opacity": 0, "size": 1}, "encoding": {"x": {"field": "v", "type": "quantitative", "scale": {"domain": [0, 1]}, "axis": null}, "y": {"field": "v", "type": "quantitative", "scale": {"domain": [0, 1], "reverse": true}, "axis": null}}, "view": {"stroke": null}},
  {"width": 121, "height": 121, "data": {"name": "ta"},
   "encoding": {
    "x": {"field": "x", "type": "quantitative", "scale": {"domain": [-5.5, 154.5], "nice": false, "zero": false}, "axis": {"values": [0, 100], "format": "d", "title": "Number of samples"}},
    "y": {"field": "y", "type": "quantitative", "scale": {"domain": [-0.0043, 0.0917], "nice": false, "zero": false}, "axis": {"values": [0, 0.025, 0.05, 0.075], "format": ".3f", "title": "Regret"}}},
   "layer": [
    {"mark": {"type": "errorbar", "rule": {"strokeWidth": 2, "strokeOpacity": 0.55}}, "encoding": {"yError": {"field": "e"}, "color": {"field": "s", "type": "nominal", "scale": {"domain": ["P","L","R","A"], "range": ["#1f9ee0","#b364d4","#25cf82","#fb2d62"]}}}},
    {"mark": {"type": "line", "strokeWidth": 1.3}, "encoding": {"color": {"field": "s", "type": "nominal", "scale": {"domain": ["P","L","R","A"], "range": ["#1f9ee0","#b364d4","#25cf82","#fb2d62"]}}, "strokeDash": {"field": "s", "type": "nominal", "scale": {"domain": ["P","L","R","A"], "range": [[4,2],[6,2,1.5,2],[1,1.6],[1,0]]}}}}
   ]},
  {"width": 121, "height": 121, "data": {"name": "tb"},
   "encoding": {
    "x": {"field": "x", "type": "quantitative", "scale": {"domain": [-23, 522], "nice": false, "zero": false}, "axis": {"values": [0, 500], "format": "d", "title": "Number of samples"}},
    "y": {"field": "y", "type": "quantitative", "scale": {"domain": [-0.0027, 0.0588], "nice": false, "zero": false}, "axis": {"values": [0, 0.02, 0.04], "format": ".2f", "title": "Regret"}}},
   "layer": [
    {"mark": {"type": "errorbar", "rule": {"strokeWidth": 2, "strokeOpacity": 0.55}}, "encoding": {"yError": {"field": "e"}, "color": {"field": "s", "type": "nominal", "scale": {"domain": ["P","L","R","A"], "range": ["#1f9ee0","#b364d4","#25cf82","#fb2d62"]}}}},
    {"mark": {"type": "line", "strokeWidth": 1.3}, "encoding": {"color": {"field": "s", "type": "nominal", "scale": {"domain": ["P","L","R","A"], "range": ["#1f9ee0","#b364d4","#25cf82","#fb2d62"]}}, "strokeDash": {"field": "s", "type": "nominal", "scale": {"domain": ["P","L","R","A"], "range": [[4,2],[6,2,1.5,2],[1,1.6],[1,0]]}}}}
   ]},
  {"width": 121, "height": 121, "data": {"name": "tc"},
   "encoding": {
    "x": {"field": "x", "type": "quantitative", "scale": {"domain": [-23, 522], "nice": false, "zero": false}, "axis": {"values": [0, 500], "format": "d", "title": "Number of samples"}},
    "y": {"field": "y", "type": "quantitative", "scale": {"domain": [-0.0002, 0.0132], "nice": false, "zero": false}, "axis": {"values": [0, 0.005, 0.01], "format": ".3f", "title": "Regret"}}},
   "layer": [
    {"mark": {"type": "errorbar", "rule": {"strokeWidth": 2, "strokeOpacity": 0.55}}, "encoding": {"yError": {"field": "e"}, "color": {"field": "s", "type": "nominal", "scale": {"domain": ["P","L","R","A"], "range": ["#1f9ee0","#b364d4","#25cf82","#fb2d62"]}}}},
    {"mark": {"type": "line", "strokeWidth": 1.3}, "encoding": {"color": {"field": "s", "type": "nominal", "scale": {"domain": ["P","L","R","A"], "range": ["#1f9ee0","#b364d4","#25cf82","#fb2d62"]}}, "strokeDash": {"field": "s", "type": "nominal", "scale": {"domain": ["P","L","R","A"], "range": [[4,2],[6,2,1.5,2],[1,1.6],[1,0]]}}}}
   ]},
  {"width": 121, "height": 121, "data": {"name": "td"},
   "encoding": {
    "x": {"field": "x", "type": "quantitative", "scale": {"domain": [-222, 15692], "nice": false, "zero": false}, "axis": {"values": [5000, 10000, 15000], "format": "d", "title": "Number of samples"}},
    "y": {"field": "y", "type": "quantitative", "scale": {"domain": [0.3161, 0.3415], "nice": false, "zero": false}, "axis": {"values": [0.32, 0.33, 0.34], "format": ".2f", "title": "Regret"}}},
   "layer": [
    {"mark": {"type": "errorbar", "rule": {"strokeWidth": 2, "strokeOpacity": 0.55}}, "encoding": {"yError": {"field": "e"}, "color": {"field": "s", "type": "nominal", "scale": {"domain": ["P","L","R","A"], "range": ["#1f9ee0","#b364d4","#25cf82","#fb2d62"]}}}},
    {"mark": {"type": "line", "strokeWidth": 1.3}, "encoding": {"color": {"field": "s", "type": "nominal", "scale": {"domain": ["P","L","R","A"], "range": ["#1f9ee0","#b364d4","#25cf82","#fb2d62"]}}, "strokeDash": {"field": "s", "type": "nominal", "scale": {"domain": ["P","L","R","A"], "range": [[4,2],[6,2,1.5,2],[1,1.6],[1,0]]}}}}
   ]},
  {"width": 121, "height": 121, "data": {"name": "te"},
   "encoding": {
    "x": {"field": "x", "type": "quantitative", "scale": {"domain": [815, 5216], "nice": false, "zero": false}, "axis": {"values": [2500, 5000], "format": "d", "title": "Number of samples"}},
    "y": {"field": "y", "type": "quantitative", "scale": {"domain": [0.1707, 0.2077], "nice": false, "zero": false}, "axis": {"values": [0.18, 0.19, 0.20], "format": ".2f", "title": "Regret"}}},
   "layer": [
    {"mark": {"type": "errorbar", "rule": {"strokeWidth": 2, "strokeOpacity": 0.55}}, "encoding": {"yError": {"field": "e"}, "color": {"field": "s", "type": "nominal", "scale": {"domain": ["P","L","R","A"], "range": ["#1f9ee0","#b364d4","#25cf82","#fb2d62"]}}}},
    {"mark": {"type": "line", "strokeWidth": 1.3}, "encoding": {
      "color": {"field": "s", "type": "nominal", "scale": {"domain": ["P","L","R","A"], "range": ["#1f9ee0","#b364d4","#25cf82","#fb2d62"]}, "legend": {"title": null, "orient": "none", "legendX": 99, "legendY": 455, "direction": "horizontal", "columns": 4, "labelFont": "DejaVu Serif", "labelFontSize": 15, "labelColor": "#111", "symbolType": "stroke", "symbolSize": 1444, "symbolStrokeWidth": 1.6, "symbolOpacity": 1, "labelOffset": 16, "columnPadding": 42, "padding": 0, "labelLimit": 300, "labelExpr": "datum.label == 'P' ? 'Passive-SCLB' : datum.label == 'L' ? 'Planner-Sampler' : datum.label == 'R' ? 'RFLinUCB' : 'Active-SCLB'"}},
      "strokeDash": {"field": "s", "type": "nominal", "scale": {"domain": ["P","L","R","A"], "range": [[4,2],[6,2,1.5,2],[1,1.6],[1,0]]}, "legend": {"title": null, "orient": "none", "legendX": 99, "legendY": 455, "direction": "horizontal", "columns": 4, "labelFont": "DejaVu Serif", "labelFontSize": 15, "labelColor": "#111", "symbolType": "stroke", "symbolSize": 1444, "symbolStrokeWidth": 1.6, "symbolOpacity": 1, "labelOffset": 16, "columnPadding": 42, "padding": 0, "labelLimit": 300, "labelExpr": "datum.label == 'P' ? 'Passive-SCLB' : datum.label == 'L' ? 'Planner-Sampler' : datum.label == 'R' ? 'RFLinUCB' : 'Active-SCLB'"}}}}
   ]},
 {"width": 1.5, "height": 125, "data": {"values": [{"v": 0}]}, "mark": {"type": "point", "opacity": 0, "size": 1}, "encoding": {"x": {"field": "v", "type": "quantitative", "scale": {"domain": [0, 1]}, "axis": null}}, "view": {"stroke": null}},
  {"width": 127, "height": 125, "data": {"name": "ba"},
   "title": {"text": "(a) ℬ⋆₅,₁₀", "orient": "bottom", "frame": "bounds", "anchor": "middle", "offset": 33},
   "mark": {"type": "line", "strokeWidth": 1.2, "clip": true},
   "encoding": {
    "x": {"field": "x", "type": "quantitative", "scale": {"domain": [1, 150], "nice": false, "zero": false}, "axis": {"values": [50, 100, 150], "format": "d", "title": "Samples (Active-SCLB)"}},
    "y": {"field": "y", "type": "quantitative", "scale": {"domain": [1, 150], "nice": false, "zero": false}, "axis": {"values": [50, 100, 150], "format": "d", "title": "Samples to match"}},
    "order": {"value": null},
    "color": {"field": "s", "type": "nominal", "scale": {"domain": ["P","L","R","A"], "range": ["#1f9ee0","#b364d4","#25cf82","#fb2d62"]}},
    "strokeDash": {"field": "s", "type": "nominal", "scale": {"domain": ["P","L","R","A"], "range": [[4,2],[6,2,1.5,2],[1,1.6],[1,0]]}}}},
  {"width": 127, "height": 125, "data": {"name": "bb"},
   "title": {"text": "(b) ℬ⋆₁₀,₁₀", "orient": "bottom", "frame": "bounds", "anchor": "middle", "offset": 33},
   "mark": {"type": "line", "strokeWidth": 1.2, "clip": true},
   "encoding": {
    "x": {"field": "x", "type": "quantitative", "scale": {"domain": [1, 500], "nice": false, "zero": false}, "axis": {"values": [200, 400], "format": "d", "title": "Samples (Active-SCLB)"}},
    "y": {"field": "y", "type": "quantitative", "scale": {"domain": [1, 500], "nice": false, "zero": false}, "axis": {"values": [200, 400], "format": "d", "title": "Samples to match"}},
    "order": {"value": null},
    "color": {"field": "s", "type": "nominal", "scale": {"domain": ["P","L","R","A"], "range": ["#1f9ee0","#b364d4","#25cf82","#fb2d62"]}},
    "strokeDash": {"field": "s", "type": "nominal", "scale": {"domain": ["P","L","R","A"], "range": [[4,2],[6,2,1.5,2],[1,1.6],[1,0]]}}}},
  {"width": 127, "height": 125, "data": {"name": "bc"},
   "title": {"text": "(c) ℬ⋆₅₀,₁₀", "orient": "bottom", "frame": "bounds", "anchor": "middle", "offset": 33},
   "mark": {"type": "line", "strokeWidth": 1.2, "clip": true},
   "encoding": {
    "x": {"field": "x", "type": "quantitative", "scale": {"domain": [1, 500], "nice": false, "zero": false}, "axis": {"values": [200, 400], "format": "d", "title": "Samples (Active-SCLB)"}},
    "y": {"field": "y", "type": "quantitative", "scale": {"domain": [1, 500], "nice": false, "zero": false}, "axis": {"values": [200, 400], "format": "d", "title": "Samples to match"}},
    "order": {"value": null},
    "color": {"field": "s", "type": "nominal", "scale": {"domain": ["P","L","R","A"], "range": ["#1f9ee0","#b364d4","#25cf82","#fb2d62"]}},
    "strokeDash": {"field": "s", "type": "nominal", "scale": {"domain": ["P","L","R","A"], "range": [[4,2],[6,2,1.5,2],[1,1.6],[1,0]]}}}},
  {"width": 127, "height": 125, "data": {"name": "bd"},
   "title": {"text": "(d) Warfarin", "orient": "bottom", "frame": "bounds", "anchor": "middle", "offset": 33},
   "mark": {"type": "line", "strokeWidth": 1.2, "clip": true},
   "encoding": {
    "x": {"field": "x", "type": "quantitative", "scale": {"domain": [1150, 14600], "nice": false, "zero": false}, "axis": {"values": [5000, 10000], "format": "d", "title": "Samples (Active-SCLB)"}},
    "y": {"field": "y", "type": "quantitative", "scale": {"domain": [1150, 14600], "nice": false, "zero": false}, "axis": {"values": [5000, 10000], "format": "d", "title": "Samples to match"}},
    "order": {"value": null},
    "color": {"field": "s", "type": "nominal", "scale": {"domain": ["P","L","R","A"], "range": ["#1f9ee0","#b364d4","#25cf82","#fb2d62"]}},
    "strokeDash": {"field": "s", "type": "nominal", "scale": {"domain": ["P","L","R","A"], "range": [[4,2],[6,2,1.5,2],[1,1.6],[1,0]]}}}},
  {"width": 127, "height": 125, "data": {"name": "be"},
   "title": {"text": "(e) Jester", "orient": "bottom", "frame": "bounds", "anchor": "middle", "offset": 33},
   "mark": {"type": "line", "strokeWidth": 1.2, "clip": true},
   "encoding": {
    "x": {"field": "x", "type": "quantitative", "scale": {"domain": [1000, 5000], "nice": false, "zero": false}, "axis": {"values": [2000, 4000], "format": "d", "title": "Samples (Active-SCLB)"}},
    "y": {"field": "y", "type": "quantitative", "scale": {"domain": [1000, 5000], "nice": false, "zero": false}, "axis": {"values": [1000, 2000, 3000, 4000, 5000], "format": "d", "title": "Samples to match"}},
    "order": {"value": null},
    "color": {"field": "s", "type": "nominal", "scale": {"domain": ["P","L","R","A"], "range": ["#1f9ee0","#b364d4","#25cf82","#fb2d62"]}},
    "strokeDash": {"field": "s", "type": "nominal", "scale": {"domain": ["P","L","R","A"], "range": [[4,2],[6,2,1.5,2],[1,1.6],[1,0]]}}}}
 ]
}
]
}
